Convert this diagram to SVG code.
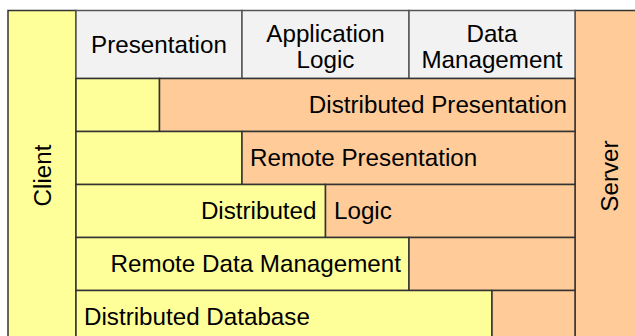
<svg xmlns="http://www.w3.org/2000/svg" width="635" height="336" viewBox="0 0 635 336">
<style>
  text { font-family: "Liberation Sans", Arial, sans-serif; font-size: 24.2px; fill: #000; }
  .y { fill: #FFFF99; stroke: #333; stroke-width: 1.5; }
  .o { fill: #FFCC99; stroke: #333; stroke-width: 1.5; }
  .h { fill: #F2F2F2; stroke: #555; stroke-width: 1.5; }
  .m { text-anchor: middle; }
  .e { text-anchor: end; }
</style>
<rect width="635" height="336" fill="#fff"/>
<g id="client">
  <rect class="y" x="8" y="10.5" width="68" height="340"/>
  <text class="m" transform="translate(51,175.5) rotate(-90)">Client</text>
</g>
<g id="server">
  <rect class="o" x="575" y="10.5" width="70" height="340"/>
  <text class="m" transform="translate(618,176) rotate(-90)">Server</text>
</g>
<g id="header-presentation">
  <rect class="h" x="76" y="10.5" width="166" height="68"/>
  <text class="m" x="159" y="53">Presentation</text>
</g>
<g id="header-logic">
  <rect class="h" x="242" y="10.5" width="167" height="68"/>
  <text class="m" x="325.5" y="41.5">Application</text>
  <text class="m" x="325.5" y="68">Logic</text>
</g>
<g id="header-data">
  <rect class="h" x="409" y="10.5" width="166" height="68"/>
  <text class="m" x="492" y="41.5">Data</text>
  <text class="m" x="492" y="68">Management</text>
</g>
<g id="row-distributed-presentation">
  <rect class="y" x="76" y="78.5" width="83.5" height="53"/>
  <rect class="o" x="159.5" y="78.5" width="415.5" height="53"/>
  <text class="e" x="567" y="113">Distributed Presentation</text>
</g>
<g id="row-remote-presentation">
  <rect class="y" x="76" y="131.5" width="166" height="53"/>
  <rect class="o" x="242" y="131.5" width="333" height="53"/>
  <text x="250" y="166">Remote Presentation</text>
</g>
<g id="row-distributed-logic">
  <rect class="y" x="76" y="184.5" width="249.5" height="53"/>
  <rect class="o" x="325.5" y="184.5" width="249.5" height="53"/>
  <text class="e" x="316.5" y="219">Distributed</text>
  <text x="334" y="219">Logic</text>
</g>
<g id="row-remote-data">
  <rect class="y" x="76" y="237.5" width="333" height="53"/>
  <rect class="o" x="409" y="237.5" width="166" height="53"/>
  <text class="e" x="401" y="272">Remote Data Management</text>
</g>
<g id="row-distributed-database">
  <rect class="y" x="76" y="290.5" width="416" height="60"/>
  <rect class="o" x="492" y="290.5" width="83" height="60"/>
  <text x="84" y="325">Distributed Database</text>
</g>
<g id="connectors"></g>
</svg>
